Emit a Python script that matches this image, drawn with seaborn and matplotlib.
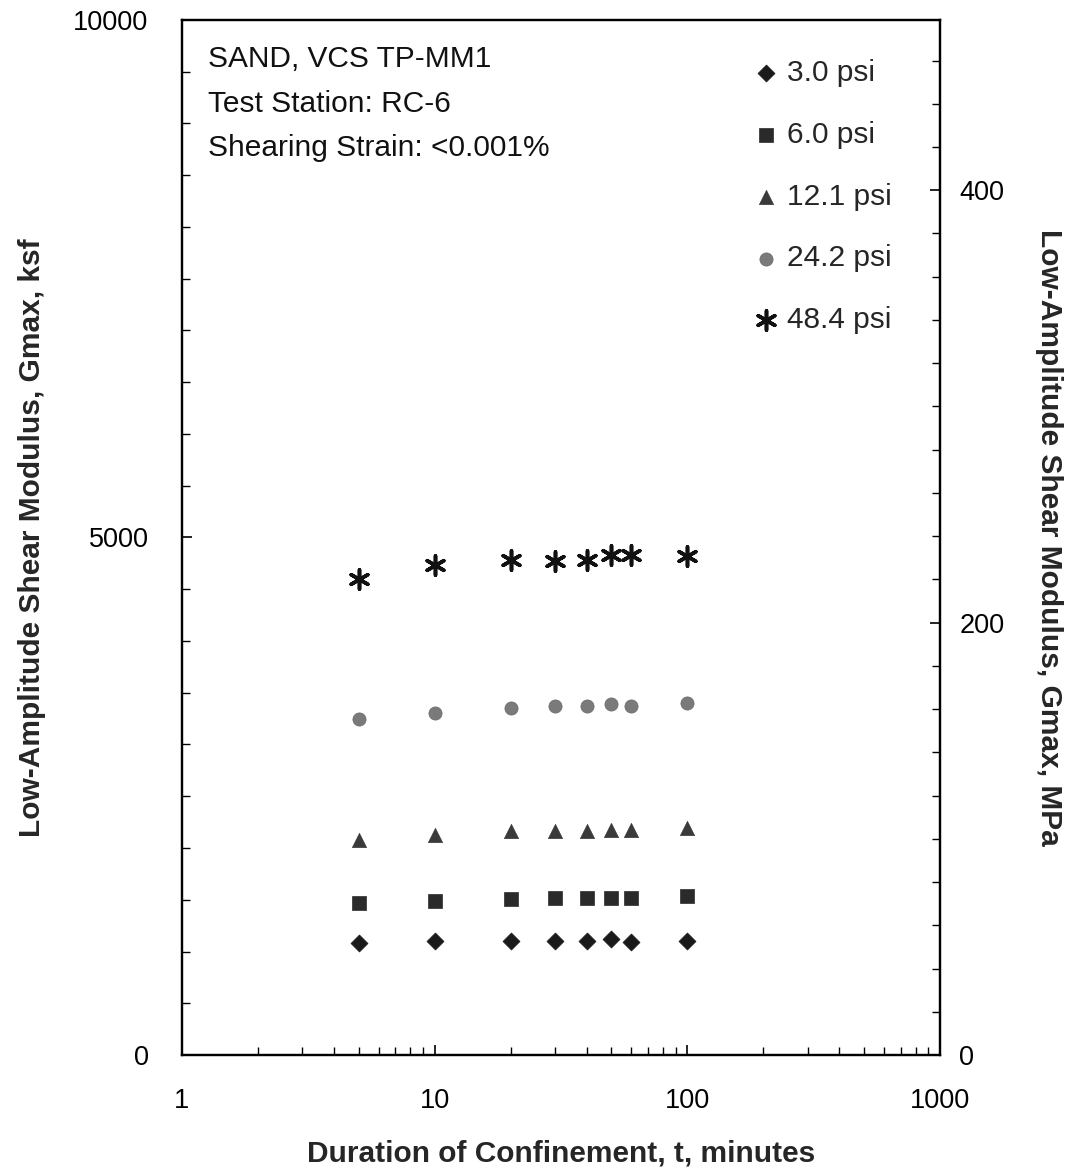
import numpy as np
import pandas as pd
import matplotlib
matplotlib.use("Agg")
import matplotlib.pyplot as plt
import seaborn as sns

# ---- data ----
duration_min = [5, 10, 20, 30, 40, 50, 60, 100]
g_3_0 = [1080, 1100, 1100, 1100, 1100, 1120, 1090, 1100]
g_6_0 = [1470, 1490, 1510, 1520, 1520, 1520, 1520, 1540]
g_12_1 = [2080, 2130, 2165, 2165, 2165, 2175, 2175, 2195]
g_24_2 = [3250, 3300, 3355, 3370, 3370, 3390, 3370, 3400]
g_48_4 = [4600, 4735, 4785, 4775, 4785, 4830, 4830, 4820]
series_labels = ["3.0 psi", "6.0 psi", "12.1 psi", "24.2 psi", "48.4 psi"]
annotation_lines = ["SAND, VCS TP-MM1", "Test Station: RC-6", "Shearing Strain: <0.001%"]
KSF_TO_MPA = 0.04788

sns.set_theme(style="ticks")
plt.rcParams['font.family'] = ['Liberation Sans', 'DejaVu Sans']

fig = plt.figure(figsize=(10.7, 11.69), dpi=100)
ax = fig.add_axes([0.170, 0.0975, 0.7085, 0.8855])

series = [g_3_0, g_6_0, g_12_1, g_24_2, g_48_4]
styles = [
    dict(marker="D", color="#1a1a1a", s=75, edgecolor="#1a1a1a", linewidth=0.5),
    dict(marker="s", color="#2a2a2a", s=100, edgecolor="#2a2a2a", linewidth=0.5),
    dict(marker="^", color="#3a3a3a", s=105, edgecolor="#3a3a3a", linewidth=0.5),
    dict(marker="o", color="#7a7a7a", s=90, edgecolor="#6a6a6a", linewidth=0.5),
    dict(marker=(6, 2, 0), color="#111111", s=190, linewidth=2.6),
]
for vals, lab, st in zip(series, series_labels, styles):
    df = pd.DataFrame({"t": duration_min, "g": vals})
    sns.scatterplot(data=df, x="t", y="g", ax=ax, label=lab, zorder=3, **st)

ax.set_xscale("log")
ax.set_xlim(1, 1000)
ax.set_ylim(0, 10000)
ax.set_yticks([0, 5000, 10000])
ax.set_yticks(np.arange(0, 10001, 500), minor=True)
ax.set_xticks([1, 10, 100, 1000])
ax.set_xticklabels(["1", "10", "100", "1000"])
ax.set_yticklabels(["0", "5000", "10000"])

for sp in ax.spines.values():
    sp.set_linewidth(1.6)
    sp.set_color("black")

ax.tick_params(axis="both", which="both", direction="in", colors="black",
               labelsize=19.5, pad=24)
ax.tick_params(axis="both", which="major", length=7, width=1.2)
ax.tick_params(axis="both", which="minor", length=6, width=1.0)
ax.tick_params(axis="x", pad=24)

ax.set_xlabel("Duration of Confinement, t, minutes", fontsize=21.5, fontweight="bold", labelpad=18)
ax.set_ylabel("Low-Amplitude Shear Modulus, Gmax, ksf", fontsize=21.5, fontweight="bold", labelpad=20)

ax2 = ax.twinx()
ax2.set_ylim(0, 10000 * KSF_TO_MPA)
ax2.set_yticks([0, 200, 400])
ax2.set_yticks(np.arange(0, 480, 20), minor=True)
ax2.tick_params(axis="y", which="both", direction="in", colors="black", labelsize=19.5, pad=14)
ax2.tick_params(axis="y", which="major", length=7, width=1.2)
ax2.tick_params(axis="y", which="minor", length=6, width=1.0)
for sp in ax2.spines.values():
    sp.set_linewidth(1.6)
    sp.set_color("black")
ax2.set_ylabel("Low-Amplitude Shear Modulus, Gmax, MPa", fontsize=21.5, fontweight="bold",
               rotation=-90, labelpad=42)

for i, line in enumerate(annotation_lines):
    ax.text(0.035, 0.962 - i * 0.043, line, transform=ax.transAxes, fontsize=21.5,
            ha="left", va="center", color="#111111")

leg = ax.legend(loc="upper right", bbox_to_anchor=(0.972, 0.988), frameon=False,
                fontsize=21.5, labelspacing=1.13, handletextpad=0.3, markerscale=1.0,
                handlelength=0.8)

fig.savefig("out.png", dpi=100, facecolor="white")
